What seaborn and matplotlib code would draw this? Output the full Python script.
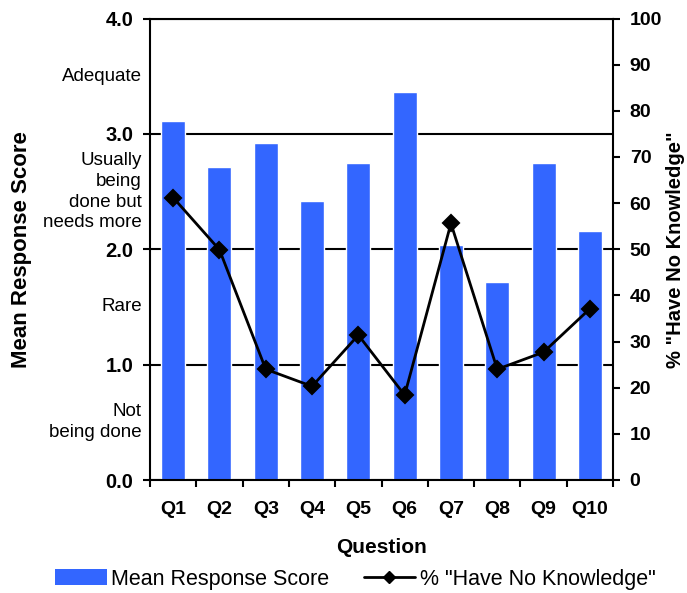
import matplotlib
matplotlib.use("Agg")
import matplotlib.pyplot as plt
import numpy as np
import pandas as pd
import seaborn as sns
from matplotlib.patches import Patch
from matplotlib.lines import Line2D

# Survey results per question
questions = ["Q1", "Q2", "Q3", "Q4", "Q5", "Q6", "Q7", "Q8", "Q9", "Q10"]
mean_scores = [3.11, 2.71, 2.92, 2.42, 2.75, 3.36, 2.04, 1.72, 2.75, 2.16]
pct_no_knowledge = [61.2, 49.9, 24.0, 20.3, 31.4, 18.4, 55.6, 24.0, 27.7, 37.1]

# Left axis: numeric score ticks and the verbal scale between them
score_ticks = [0, 1, 2, 3, 4]
score_tick_labels = ["0.0", "1.0", "2.0", "3.0", "4.0"]
scale_positions = [0.5, 1.5, 2.5, 3.5]
scale_labels = ["Not\nbeing done", "Rare", "Usually\nbeing\ndone but\nneeds more", "Adequate"]

# Right axis ticks
pct_ticks = list(range(0, 101, 10))

BAR_COLOR = "#3366FF"
LW = 1.5

sns.set_style("ticks")
plt.rcParams["font.family"] = ["Liberation Sans", "DejaVu Sans"]
plt.rcParams["text.color"] = "black"
plt.rcParams["axes.labelcolor"] = "black"
plt.rcParams["xtick.color"] = "black"
plt.rcParams["ytick.color"] = "black"

df = pd.DataFrame({"Question": questions,
                   "Mean Response Score": mean_scores,
                   "pct": pct_no_knowledge})

fig = plt.figure(figsize=(6.87, 5.93), dpi=100)
ax = fig.add_axes([150 / 687, 1 - 480 / 593, 463 / 687, 461.5 / 593])

sns.barplot(data=df, x="Question", y="Mean Response Score", color=BAR_COLOR,
            saturation=1, width=0.52, ax=ax, zorder=2)

ax2 = ax.twinx()
sns.pointplot(data=df, x="Question", y="pct", color="black", markers="D",
              markersize=8, linewidth=2.0, errorbar=None, ax=ax2)

# Left axis
ax.set_ylim(0, 4)
ax.set_xlim(-0.5, len(questions) - 0.5)
ax.set_yticks(score_ticks)
ax.set_yticklabels(score_tick_labels, fontsize=14.5, fontweight="bold")
ax.tick_params(axis="y", which="major", length=5, width=LW, pad=7, color="black")
ax.set_axisbelow(True)
ax.grid(axis="y", color="black", linewidth=LW)
ax.grid(axis="x", visible=False)

ytrans = ax.get_yaxis_transform()
for pos, lab in zip(scale_positions, scale_labels):
    ax.text(-0.0175, pos, lab, transform=ytrans, ha="right", va="center",
            multialignment="right", fontsize=13.5, linespacing=1.3)

# Category axis: labels at centers, tick marks at boundaries
ax.set_xticks(range(len(questions)))
ax.set_xticklabels(questions, fontsize=14, fontweight="bold")
ax.tick_params(axis="x", which="major", length=0, pad=15)
ax.set_xticks(np.arange(-0.5, len(questions), 1.0), minor=True)
ax.tick_params(axis="x", which="minor", length=5, width=LW, color="black")

ax.set_xlabel("Question", fontsize=15, fontweight="bold")
ax.xaxis.set_label_coords(0.5, -0.126)
ax.set_ylabel("Mean Response Score", fontsize=16, fontweight="bold")
ax.yaxis.set_label_coords(-0.255, 0.5)

for name, sp in ax.spines.items():
    sp.set_color("black")
    sp.set_linewidth(LW)
ax.spines["right"].set_visible(False)

# Right axis
ax2.set_ylim(0, 100)
ax2.set_yticks(pct_ticks)
ax2.set_yticklabels([str(t) for t in pct_ticks], fontsize=14, fontweight="bold")
ax2.tick_params(axis="y", which="major", length=5, width=LW, pad=7, color="black")
ax2.grid(False)
ax2.set_ylabel('% "Have No Knowledge"', fontsize=14.5, fontweight="bold")
ax2.yaxis.set_label_coords(1.115, 0.5)
for name, sp in ax2.spines.items():
    sp.set_visible(name == "right")
    sp.set_color("black")
    sp.set_linewidth(LW)
ax.set_xlim(-0.5, len(questions) - 0.5)

# Legend under the chart
handles = [Patch(facecolor=BAR_COLOR, edgecolor="none"),
           Line2D([], [], color="black", marker="D", markersize=6, linewidth=2.0)]
fig.legend(handles, ["Mean Response Score", '% "Have No Knowledge"'],
           loc="center", bbox_to_anchor=(0.517, 0.0236), ncol=2, frameon=False,
           fontsize=15.5, handlelength=2.4, handletextpad=0.2, columnspacing=1.6,
           borderpad=0.1)

fig.savefig("out.png", dpi=100)
